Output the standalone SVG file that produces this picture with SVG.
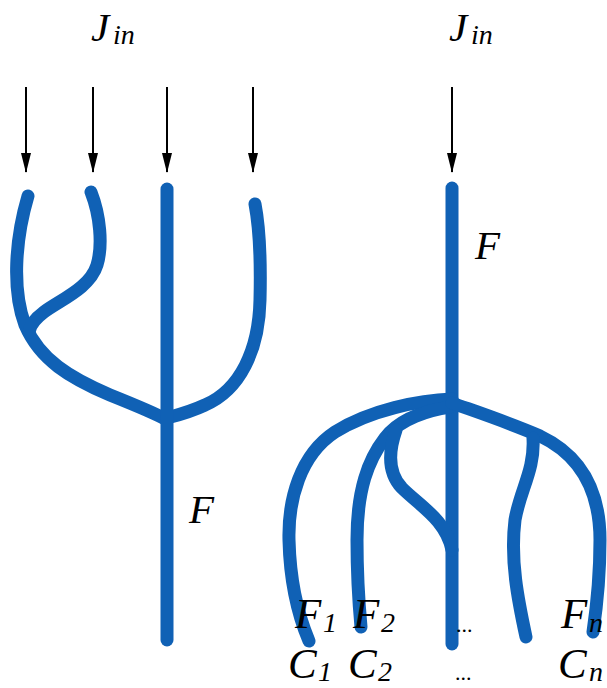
<svg xmlns="http://www.w3.org/2000/svg" width="607" height="688" viewBox="0 0 607 688">
<style>
.b{fill:none;stroke:#1061b5;stroke-width:13;stroke-linecap:round;stroke-linejoin:round}
.a{stroke:#000;stroke-width:2;fill:none}
text{font-family:"Liberation Serif","Times New Roman",serif;font-style:italic;fill:#000}
.m{font-size:41px}
.l{font-size:43px}
.s{font-size:28px}
.d{font-size:22px;font-style:normal}
</style>
<defs>
<marker id="ah" viewBox="0 0 10 20" markerWidth="10" markerHeight="20" refX="5" refY="19" orient="0" markerUnits="userSpaceOnUse">
<path d="M0,0 L10,0 L5,20 z" fill="#000"/>
</marker>
</defs>
<rect width="607" height="688" fill="#fff"/>
<g id="connectors">
<line class="a" x1="26" y1="87" x2="26" y2="172" marker-end="url(#ah)"/>
<line class="a" x1="93" y1="87" x2="93" y2="172" marker-end="url(#ah)"/>
<line class="a" x1="167" y1="87" x2="167" y2="172" marker-end="url(#ah)"/>
<line class="a" x1="253" y1="87" x2="253" y2="172" marker-end="url(#ah)"/>
<line class="a" x1="452" y1="87" x2="452" y2="172" marker-end="url(#ah)"/>
</g>
<g id="left-tree">
<path class="b" d="M28 196 C15 240,12 290,25 325 C40 360,70 378,110 395 C135 405,155 413,167 420"/>
<path class="b" d="M91 192 C100 215,103 245,97 265 C90 288,60 300,44 312 C36 318,30 325,29 332"/>
<path class="b" d="M255 204 C259 225,261 260,260 300 C259 350,240 390,205 405 C190 412,178 415,167 418"/>
<path class="b" d="M167 189 L167 640"/>
</g>
<g id="right-tree">
<path class="b" d="M452 188 L452 644"/>
<path class="b" d="M452 399 C420 400,370 410,335 432 C300 455,288 500,289 540 C290 580,298 615,309 641"/>
<path class="b" d="M450 407 C430 410,400 418,385 438 C368 460,357 490,357 540 C357 580,359 605,361 627"/>
<path class="b" d="M396 430 C389 450,387 472,402 488 C420 506,446 520,452 550"/>
<path class="b" d="M452 403 C480 413,510 423,540 436 C580 455,600 490,600 540 C600 580,597 605,593 632"/>
<path class="b" d="M533 438 C535 470,520 490,515 520 C510 560,518 600,526 637"/>
</g>
<g id="labels">
<text class="m" x="91" y="41">J</text><text class="s" x="113" y="44">in</text>
<text class="m" x="449" y="41">J</text><text class="s" x="471" y="44">in</text>
<text class="m" x="189" y="523">F</text>
<text class="m" x="475" y="259">F</text>
<text class="l" x="295" y="628">F</text><text class="s" x="323" y="632">1</text>
<text class="l" x="353" y="628">F</text><text class="s" x="381" y="632">2</text>
<text class="l" x="561" y="628">F</text><text class="s" x="589" y="632">n</text>
<text class="l" x="288" y="678">C</text><text class="s" x="318" y="681">1</text>
<text class="l" x="348" y="678">C</text><text class="s" x="378" y="681">2</text>
<text class="l" x="558" y="678">C</text><text class="s" x="589" y="681">n</text>
<text class="d" x="456" y="632">...</text>
<text class="d" x="455" y="680">...</text>
</g>
</svg>
